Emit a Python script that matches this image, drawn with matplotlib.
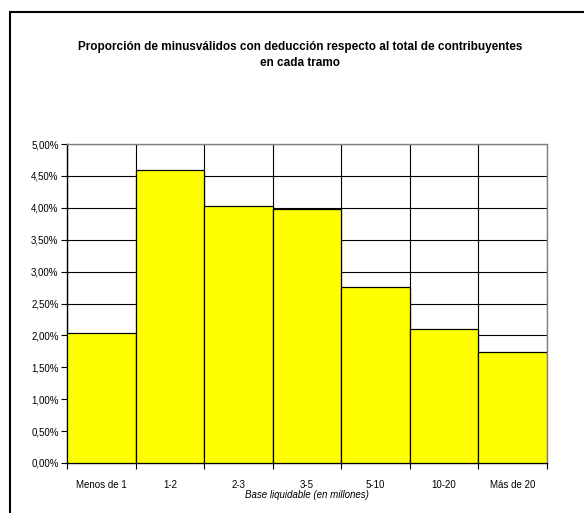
import matplotlib.pyplot as plt
from matplotlib.patches import Rectangle
from matplotlib.ticker import FuncFormatter, MultipleLocator, FixedLocator

tramos = ['Menos de 1', '1-2', '2-3', '3-5', '5-10', '10-20', 'Más de 20']
proporcion = [2.04, 4.60, 4.03, 3.98, 2.76, 2.10, 1.74]

plt.rcParams['font.family'] = ['Liberation Sans', 'DejaVu Sans']

fig = plt.figure(figsize=(5.84, 5.13), dpi=100)
# marco exterior del gráfico (sólo se ven los bordes izquierdo y superior)
fig.patches.append(Rectangle((10 / 584, -0.2), 1.2, 1.2 - 12 / 513, transform=fig.transFigure,
                             fill=False, edgecolor='black', linewidth=1.5))

ax = fig.add_axes([67 / 584, 50 / 513, 480 / 584, 319 / 513])
x = range(len(tramos))
ax.bar(x, proporcion, width=1.0, color='#ffff00', edgecolor='black', linewidth=0.9, zorder=3)

ax.set_xlim(-0.5, len(tramos) - 0.5)
ax.set_ylim(0, 5)
ax.yaxis.set_major_locator(MultipleLocator(0.5))
ax.yaxis.set_major_formatter(FuncFormatter(lambda v, p: ('%.2f%%' % v).replace('.', ',')))
ax.set_xticks(list(x))
ax.set_xticklabels(tramos)
ax.xaxis.set_minor_locator(FixedLocator([i - 0.5 for i in range(len(tramos) + 1)]))
ax.tick_params(axis='x', which='major', length=0, pad=12, labelsize=7)
ax.tick_params(axis='x', which='minor', length=4, direction='out', width=0.8)
ax.tick_params(axis='y', length=4, direction='out', width=0.8, labelsize=7, pad=2)

ax.grid(axis='y', which='major', color='black', linewidth=0.8, zorder=0)
ax.grid(axis='x', which='minor', color='black', linewidth=0.8, zorder=0)
ax.set_axisbelow(True)
for s in ax.spines.values():
    s.set_color('#808080')
    s.set_linewidth(1.0)
ax.spines['left'].set_color('black')
ax.spines['bottom'].set_color('black')

ax.set_xlabel('Base liquidable (en millones)', fontsize=7, style='italic', labelpad=0)

fig.text(300 / 584, 1 - 55 / 513, 'Proporción de minusválidos con deducción respecto al total de contribuyentes\nen cada tramo',
         ha='center', va='center', fontsize=8.5, fontweight='bold', linespacing=1.55)

fig.savefig('out.png', dpi=100)
